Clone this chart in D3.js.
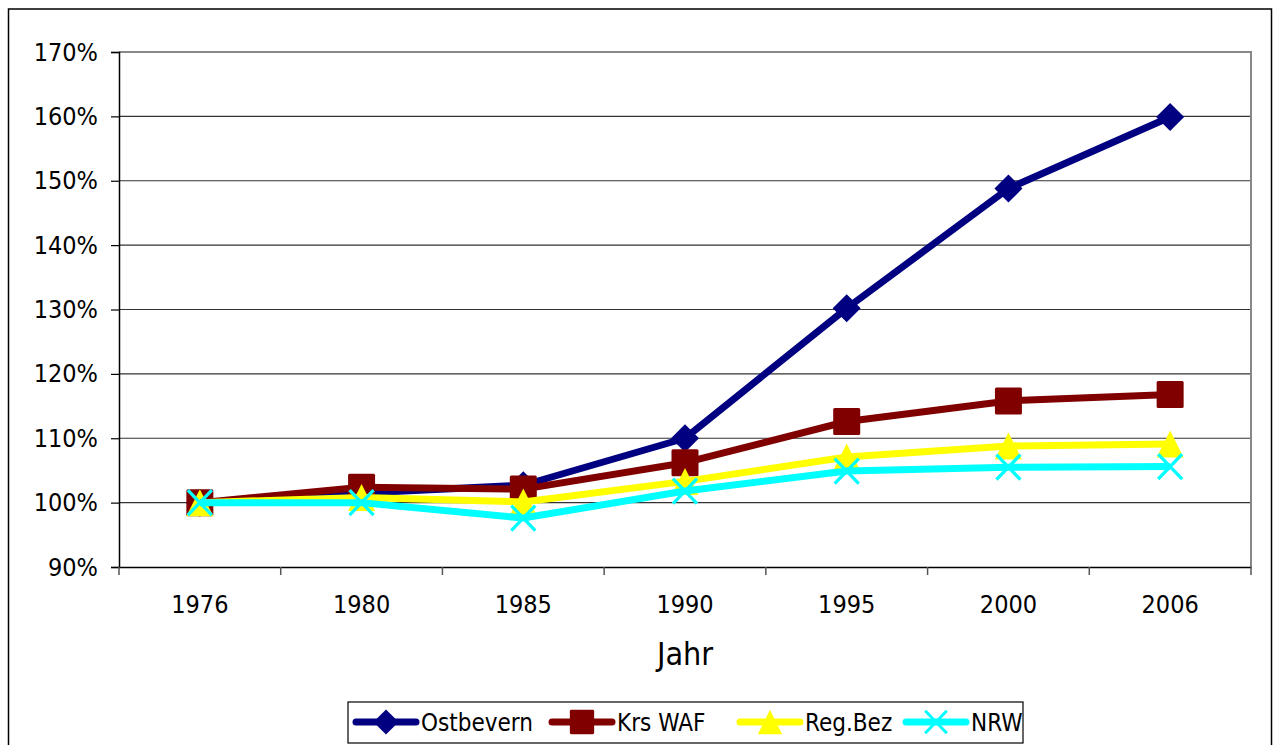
<html>
<head>
  <meta charset="utf-8">
  <title>Bevoelkerungsentwicklung</title>
  <script src="https://d3js.org/d3.v7.min.js"></script>
  <style>
    body { margin: 0; background: #fff; }
    text { font-family: Tahoma, "DejaVu Sans Condensed", "DejaVu Sans", sans-serif; fill: #000; }
  </style>
</head>
<body>
<script>
  // data (percent of 1976)
  var years = ["1976", "1980", "1985", "1990", "1995", "2000", "2006"];
  var ostbevern = [100, 101.5, 102.7, 110.0, 130.2, 148.8, 159.9];
  var krsWaf    = [100, 102.4, 102.1, 106.2, 112.6, 115.8, 116.8];
  var regBez    = [100, 100.8, 100.1, 103.3, 107.1, 108.8, 109.1];
  var nrw       = [100, 100.0, 97.6, 101.8, 104.9, 105.5, 105.6];
  var seriesNames = ["Ostbevern", "Krs WAF", "Reg.Bez", "NRW"];
  var yTicks = [90, 100, 110, 120, 130, 140, 150, 160, 170];

  var W = 1274, H = 745;
  var m = {left: 119, top: 52, right: 1251, bottom: 567};

  var svg = d3.select("body").append("svg").attr("width", W).attr("height", H);

  // outer frame
  svg.append("rect").attr("x", 8.5).attr("y", 9).attr("width", 1263).attr("height", 760)
    .attr("fill", "none").attr("stroke", "#000").attr("stroke-width", 1.5);

  var x = d3.scaleBand().domain(years).range([m.left, m.right]);
  var y = d3.scaleLinear().domain([90, 170]).range([m.bottom, m.top]);

  // grid
  svg.append("g").selectAll("line").data(yTicks.slice(1, -1)).enter().append("line")
    .attr("x1", m.left).attr("x2", m.right)
    .attr("y1", function(d) { return y(d); }).attr("y2", function(d) { return y(d); })
    .attr("stroke", "#333").attr("stroke-width", 1.2);

  // plot frame top/right (grey)
  svg.append("path")
    .attr("d", "M" + m.left + "," + m.top + "H" + m.right + "V" + m.bottom)
    .attr("fill", "none").attr("stroke", "#888").attr("stroke-width", 2);

  // y axis
  var yAxis = svg.append("g").attr("transform", "translate(" + m.left + ",0)")
    .call(d3.axisLeft(y).tickValues(yTicks).tickSize(8).tickPadding(13)
      .tickFormat(function(d) { return d + "%"; }));
  yAxis.select(".domain").attr("stroke", "#000").attr("stroke-width", 1.5);
  yAxis.selectAll(".tick line").attr("stroke", "#000").attr("stroke-width", 1.2);
  yAxis.selectAll("text").attr("font-size", 25).attr("font-family", null);

  // x axis: ticks on category boundaries
  var xAxis = svg.append("g").attr("transform", "translate(0," + m.bottom + ")")
    .call(d3.axisBottom(x).tickSize(0));
  xAxis.select(".domain").attr("stroke", "#000").attr("stroke-width", 1.5);
  xAxis.selectAll("text").attr("font-size", 25).attr("font-family", null)
    .attr("y", 46).attr("dy", null);
  var bounds = years.map(function(d) { return x(d); }).concat([m.right]);
  xAxis.selectAll(".bnd").data(bounds).enter().append("line")
    .attr("x1", function(d) { return d; }).attr("x2", function(d) { return d; })
    .attr("y1", 0).attr("y2", 8).attr("stroke", "#555").attr("stroke-width", 1.5);

  svg.append("text").attr("x", (m.left + m.right) / 2).attr("y", 665)
    .attr("text-anchor", "middle").attr("font-size", 32).text("Jahr");

  var colors = ["#000080", "#800000", "#ffff00", "#00ffff"];
  var data = [ostbevern, krsWaf, regBez, nrw];
  var cx = function(i) { return x(years[i]) + x.bandwidth() / 2; };

  function marker(g, k, c) {
    if (k === 0) {
      g.append("path").attr("d", "M0,-14L14,0L0,14L-14,0Z").attr("fill", c);
    } else if (k === 1) {
      g.append("rect").attr("x", -13.5).attr("y", -13.5).attr("width", 27).attr("height", 27).attr("rx", 1.5)
        .attr("fill", c);
    } else if (k === 2) {
      g.append("path").attr("d", "M0,-13.5L13.5,13.5L-13.5,13.5Z").attr("fill", c);
    } else {
      g.append("path").attr("d", "M-12,-12.5L12,12.5M-12,12.5L12,-12.5")
        .attr("stroke", c).attr("stroke-width", 3.3).attr("fill", "none");
    }
  }

  var line = d3.line().x(function(d, i) { return cx(i); }).y(function(d) { return y(d); });

  data.forEach(function(s, k) {
    var g = svg.append("g");
    g.append("path").datum(s).attr("d", line).attr("fill", "none")
      .attr("stroke", colors[k]).attr("stroke-width", 7).attr("stroke-linejoin", "round");
    s.forEach(function(v, i) {
      var mg = g.append("g").attr("transform", "translate(" + cx(i) + "," + y(v) + ")");
      marker(mg, k, colors[k]);
    });
  });

  // legend
  var lg = svg.append("g");
  lg.append("rect").attr("x", 348).attr("y", 702).attr("width", 675).attr("height", 41)
    .attr("fill", "#fff").attr("stroke", "#000").attr("stroke-width", 1.2);
  var lx = [356, 552, 740, 906];
  seriesNames.forEach(function(name, k) {
    var it = lg.append("g").attr("transform", "translate(" + lx[k] + ",722)");
    it.append("line").attr("x1", 0).attr("x2", 60).attr("stroke", colors[k])
      .attr("stroke-width", 7).attr("stroke-linecap", "round");
    var mg = it.append("g").attr("transform", "translate(30,0) scale(0.9)");
    marker(mg, k, colors[k]);
    it.append("text").attr("x", 65).attr("y", 9).attr("font-size", 24).text(name);
  });
</script>
</body>
</html>
